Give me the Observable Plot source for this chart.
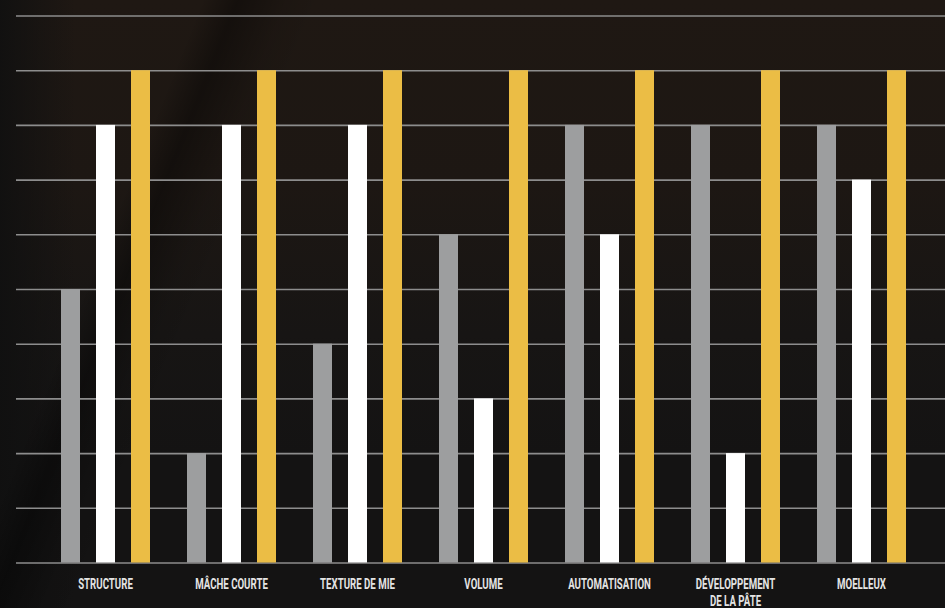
<!DOCTYPE html>
<html>
<head>
<meta charset="utf-8">
<script src="https://cdn.jsdelivr.net/npm/d3@7"></script>
<script src="https://cdn.jsdelivr.net/npm/@observablehq/plot@0.6"></script>
<style>
  html, body { margin: 0; padding: 0; width: 945px; height: 608px; overflow: hidden; }
  body {
    background:
      linear-gradient(112deg, rgba(0,0,0,0) 17%, rgba(0,0,0,0.35) 20%, rgba(0,0,0,0.08) 24%, rgba(0,0,0,0) 27%),
      linear-gradient(90deg, rgba(16,16,16,0.9) 0%, rgba(16,16,16,0) 8%),
      linear-gradient(180deg, #1f1813 0%, #1d1713 30%, #171514 55%, #141313 75%, #141313 100%);
  }
  #chart { position: relative; width: 945px; height: 608px; }
  #chart svg { display: block; position: absolute; left: 0; top: 0; }
</style>
</head>
<body>
<div id="chart"></div>
<script>
const categories = ["Structure", "Mâche courte", "Texture de mie", "Volume", "Automatisation", "Développement de la pâte", "Moelleux"];
const tickLabels = ["STRUCTURE", "MÂCHE COURTE", "TEXTURE DE MIE", "VOLUME", "AUTOMATISATION", "DÉVELOPPEMENT\nDE LA PÂTE", "MOELLEUX"];
const seriesNames = ["Série 1", "Série 2", "Série 3"];
const seriesColors = ["#9d9e9f", "#ffffff", "#ebbd45"];
const grayValues = [5, 2, 4, 6, 8, 8, 8];
const whiteValues = [8, 8, 8, 3, 6, 2, 7];
const goldValues = [9, 9, 9, 9, 9, 9, 9];
const yTicks = [0, 1, 2, 3, 4, 5, 6, 7, 8, 9, 10];

const allValues = [grayValues, whiteValues, goldValues];
const data = [];
categories.forEach((c, i) => {
  seriesNames.forEach((s, j) => data.push({category: c, series: s, value: allValues[j][i]}));
});
const labelOf = new Map(categories.map((c, i) => [c, tickLabels[i]]));

const common = {
  width: 945,
  height: 608,
  marginTop: 15.5,
  marginBottom: 45.5,
  marginLeft: 16,
  marginRight: 0,
  style: {background: "transparent", overflow: "visible"},
  y: {domain: [0, 10], axis: null, label: null}
};

// gridlines layer (full width)
const grid = Plot.plot({
  ...common,
  x: {axis: null},
  marks: [
    Plot.ruleY(yTicks, {stroke: "#8d8d8d", strokeWidth: 1.6})
  ]
});

// bars layer (grouped by facets)
const bars = Plot.plot({
  ...common,
  fx: {domain: categories, paddingInner: 0, paddingOuter: 0.1865, align: 0.5426, axis: null, label: null},
  x: {domain: seriesNames, paddingInner: 0.465, paddingOuter: 0.507, axis: null, label: null},
  color: {domain: seriesNames, range: seriesColors},
  marks: [
    Plot.barY(data, {fx: "category", x: "series", y: "value", fill: "series"}),
    Plot.axisFx({
      anchor: "bottom",
      tickSize: 0,
      tickPadding: 13,
      label: null,
      tickFormat: d => labelOf.get(d),
      fill: "#e4e4e4",
      fontSize: 15,
      fontWeight: 700,
      lineHeight: 1.18,
      fontFamily: "Roboto"
    })
  ]
});
const root = document.getElementById("chart");
root.appendChild(grid);
root.appendChild(bars);

// condense the tick labels horizontally
bars.querySelectorAll('[aria-label="fx-axis tick label"] text').forEach(t => {
  const tr = t.getAttribute("transform") || "";
  t.setAttribute("transform", tr + " scale(0.645,1)");
});
</script>
</body>
</html>
